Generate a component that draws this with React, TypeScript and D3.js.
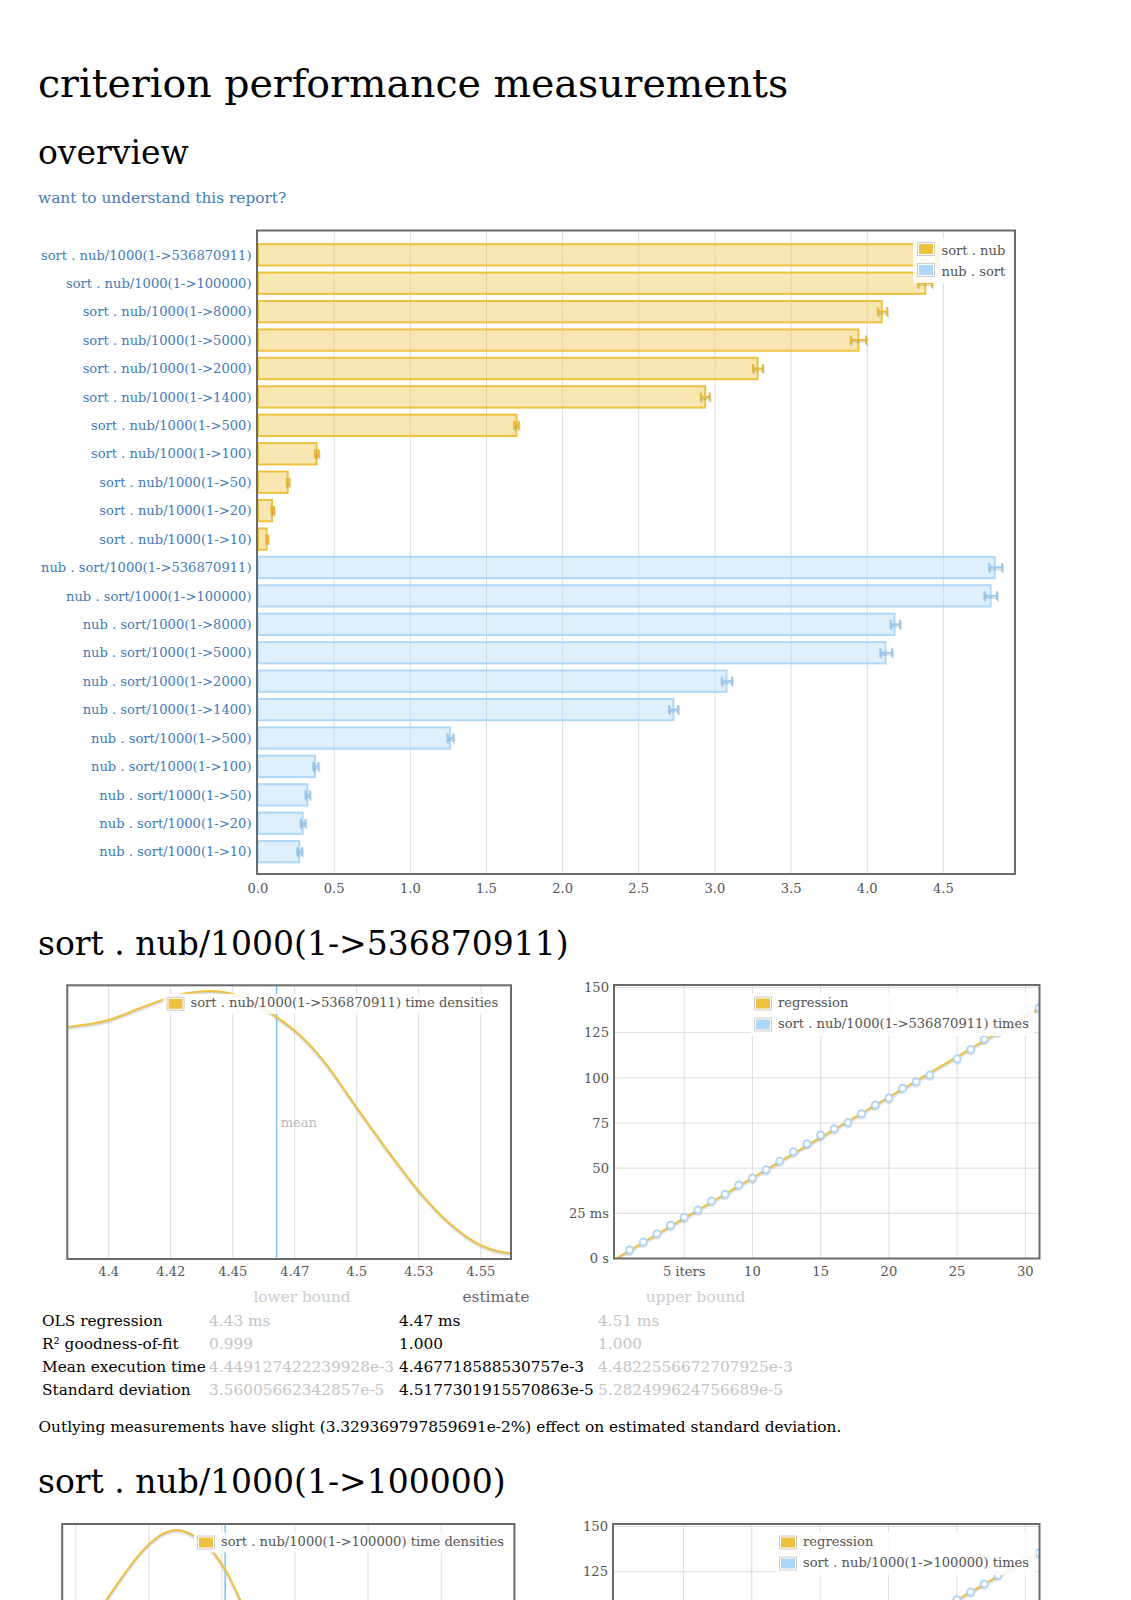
import React, { useEffect } from "react";
import * as d3 from "d3";

// ---------------- data ----------------
const sizes = ["536870911", "100000", "8000", "5000", "2000", "1400", "500", "100", "50", "20", "10"];
const sortNubMean = [4.468, 4.381, 4.095, 3.942, 3.28, 2.936, 1.697, 0.385, 0.195, 0.092, 0.057];
const sortNubLower = [4.452, 4.333, 4.07, 3.891, 3.25, 2.907, 1.682, 0.374, 0.188, 0.087, 0.053];
const sortNubUpper = [4.517, 4.425, 4.13, 3.993, 3.314, 2.965, 1.711, 0.398, 0.206, 0.105, 0.066];
const nubSortMean = [4.837, 4.81, 4.179, 4.12, 3.076, 2.727, 1.261, 0.374, 0.324, 0.293, 0.271];
const nubSortLower = [4.8, 4.77, 4.153, 4.086, 3.045, 2.699, 1.243, 0.363, 0.311, 0.28, 0.258];
const nubSortUpper = [4.885, 4.852, 4.215, 4.163, 3.112, 2.758, 1.282, 0.396, 0.341, 0.311, 0.289];
const seriesNames = ["sort . nub", "nub . sort"];
const overviewTicks = [0, 0.5, 1, 1.5, 2, 2.5, 3, 3.5, 4, 4.5];

const density1Ms = [4.3837, 4.4, 4.4125, 4.4246, 4.4327, 4.4407, 4.4488, 4.4595, 4.4676, 4.4756, 4.4864, 4.4998, 4.5133, 4.5247, 4.5375, 4.55, 4.5605, 4.5618];
const density1Val = [0.848, 0.873, 0.916, 0.956, 0.973, 0.979, 0.971, 0.934, 0.885, 0.83, 0.727, 0.556, 0.386, 0.252, 0.13, 0.051, 0.023, 0.022];
const density1Ticks = [4.4, 4.425, 4.45, 4.475, 4.5, 4.525, 4.55];
const density1TickLabels = ["4.4", "4.42", "4.45", "4.47", "4.5", "4.53", "4.55"];
const density1Mean = 4.4677;

const regIters1 = [1, 2, 3, 4, 5, 6, 7, 8, 9, 10, 11, 12, 13, 14, 15, 16, 17, 18, 19, 20, 21, 22, 23, 25, 26, 27, 28, 30, 31];
const regTimes1 = [4.7, 9.1, 13.7, 18.4, 22.8, 26.8, 31.8, 35.5, 40.7, 44.5, 49.1, 53.9, 59.1, 63.5, 68.3, 71.8, 75.3, 80.1, 84.9, 88.8, 94.3, 97.8, 101.5, 110.5, 115.7, 121.4, 125.4, 137.1, 138.7];
const regSlope1 = 4.4677;

const regXTicks = [5, 10, 15, 20, 25, 30];
const regXTickLabels = ["5 iters", "10", "15", "20", "25", "30"];
const regYTicks = [0, 25, 50, 75, 100, 125, 150];
const regYTickLabels = ["0 s", "25 ms", "50", "75", "100", "125", "150"];

const density2Ms = [4.3304, 4.3355, 4.3407, 4.3458, 4.3509, 4.3554, 4.3595, 4.3636, 4.368, 4.3725, 4.3766, 4.38, 4.3834];
const density2Val = [0.631, 0.722, 0.803, 0.876, 0.934, 0.967, 0.978, 0.967, 0.938, 0.891, 0.825, 0.752, 0.668];
const density2Ticks = [4.325, 4.35, 4.375, 4.4, 4.425, 4.45];
const density2Mean = 4.3761;

const regIters2 = [25, 26, 27, 28, 30, 31];
const regTimes2 = [109.5, 113.8, 118.2, 122.9, 131.4, 135.3];
const regSlope2 = 4.376;

const tableHeaders = ["lower bound", "estimate", "upper bound"];
const tableRowLabels = ["OLS regression", "R² goodness-of-fit", "Mean execution time", "Standard deviation"];
const tableLower = ["4.43 ms", "0.999", "4.449127422239928e-3", "3.56005662342857e-5"];
const tableEstimate = ["4.47 ms", "1.000", "4.467718588530757e-3", "4.5177301915570863e-5"];
const tableUpper = ["4.51 ms", "1.000", "4.4822556672707925e-3", "5.282499624756689e-5"];
const outlierNote = "Outlying measurements have slight (3.329369797859691e-2%) effect on estimated standard deviation.";

// ---------------- style ----------------
const PAGE_H = 1600;
const FONT = "'DejaVu Serif', serif";
const LINK = "#437bb8";
const AXIS = "#545454";
const GRID = "#dddddd";
const BORDER = "#6a6a6a";
const YELLOW = "#edc240";
const BLUE = "#afd8f8";
const YELLOW_FILL = "rgba(237,194,64,0.4)";
const BLUE_FILL = "rgba(175,216,248,0.4)";
const FS = 13.1;
const BODY = 15.35;

function Swatch({ x, y, color }: { x: number; y: number; color: string }) {
  return (
    <g>
      <rect x={x + 0.5} y={y + 0.5} width={17} height={13} fill="#fff" stroke="#ccc" strokeWidth={1} />
      <rect x={x + 2} y={y + 2} width={14} height={10} fill={color} />
    </g>
  );
}

function Overview() {
  const rows = [
    ...sizes.map((s) => `sort . nub/1000(1->${s})`),
    ...sizes.map((s) => `nub . sort/1000(1->${s})`),
  ];
  const means = [...sortNubMean, ...nubSortMean];
  const lows = [...sortNubLower, ...nubSortLower];
  const highs = [...sortNubUpper, ...nubSortUpper];
  const left = 258, right = 1015, top = 231, bottom = 874;
  const x = d3.scaleLinear().domain([0, 4.97]).range([left, right]);
  const y = d3.scaleBand<string>().domain(rows).range([240.6, 865.9]).paddingInner(0.25).paddingOuter(0.125);
  const bw = y.bandwidth();
  return (
    <g fontFamily={FONT}>
      {overviewTicks.map((t) => (
        <g key={t}>
          {t > 0 && <line x1={x(t)} x2={x(t)} y1={top} y2={bottom} stroke={GRID} strokeWidth={1} />}
          <text x={x(t)} y={892.5} textAnchor="middle" fontSize={FS} fill={AXIS}>{t.toFixed(1)}</text>
        </g>
      ))}
      {rows.map((r, i) => {
        const yellow = i < sizes.length;
        const c = yellow ? YELLOW : BLUE;
        const yy = y(r)!;
        const cy = yy + bw / 2;
        return (
          <g key={r}>
            <rect x={x(0)} y={yy} width={x(means[i]) - x(0)} height={bw} fill={yellow ? YELLOW_FILL : BLUE_FILL} stroke={c} strokeWidth={2} />
            {yellow && <line x1={x(0) + 1} x2={x(means[i]) - 1} y1={cy} y2={cy} stroke="#fae9a8" strokeWidth={1} />}
            <g stroke="rgba(0,0,0,0.12)" strokeWidth={2}>
              <line x1={x(lows[i])} x2={x(highs[i])} y1={cy + 2} y2={cy + 2} />
              <line x1={x(lows[i]) + 1} x2={x(lows[i]) + 1} y1={cy - 3} y2={cy + 6} />
              <line x1={x(highs[i]) + 1} x2={x(highs[i]) + 1} y1={cy - 3} y2={cy + 6} />
            </g>
            <g stroke={yellow ? "#e6b93a" : "#98c8ee"} strokeWidth={2}>
              <line x1={x(lows[i])} x2={x(highs[i])} y1={cy} y2={cy} />
              <line x1={x(lows[i])} x2={x(lows[i])} y1={cy - 4.5} y2={cy + 4.5} />
              <line x1={x(highs[i])} x2={x(highs[i])} y1={cy - 4.5} y2={cy + 4.5} />
            </g>
            <text x={251.5} y={cy + 4.7} textAnchor="end" fontSize={FS} fill={LINK}>{r}</text>
          </g>
        );
      })}
      <rect x={left - 1} y={top - 0.5} width={right - left + 1} height={bottom - top + 0.5} fill="none" stroke={BORDER} strokeWidth={2} />
      <rect x={913} y={238} width={97} height={45} fill="#fff" opacity={0.85} />
      <Swatch x={917} y={242} color={YELLOW} />
      <Swatch x={917} y={263} color={BLUE} />
      <text x={941.5} y={254.5} fontSize={FS} fill={AXIS}>{seriesNames[0]}</text>
      <text x={941.5} y={275.5} fontSize={FS} fill={AXIS}>{seriesNames[1]}</text>
    </g>
  );
}

type DensityProps = {
  id: string;
  left: number; right: number; top: number; height: number;
  domain: [number, number];
  ms: number[]; vals: number[];
  ticks: number[]; tickLabels?: string[];
  mean: number;
  legendLabel: string;
  legendX: number;
};

function Density(p: DensityProps) {
  const bottom = p.top + p.height;
  const x = d3.scaleLinear().domain(p.domain).range([p.left, p.right]);
  const y = d3.scaleLinear().domain([0, 1]).range([bottom, p.top]);
  const pts: [number, number][] = p.ms.map((m, i) => [m, p.vals[i]]);
  const line = d3.line<[number, number]>().x((d) => x(d[0])).y((d) => y(d[1])).curve(d3.curveMonotoneX);
  const path = line(pts) || "";
  const mx = x(p.mean);
  const meanY = p.top + 142;
  return (
    <g fontFamily={FONT}>
      <defs>
        <clipPath id={p.id}>
          <rect x={p.left} y={p.top} width={p.right - p.left} height={p.height} />
        </clipPath>
      </defs>
      {p.ticks.map((t, i) => (
        <g key={t}>
          <line x1={x(t)} x2={x(t)} y1={p.top} y2={bottom} stroke={GRID} strokeWidth={1} />
          {p.tickLabels && bottom + 17 < PAGE_H && (
            <text x={x(t)} y={bottom + 17} textAnchor="middle" fontSize={FS} fill={AXIS}>{p.tickLabels[i]}</text>
          )}
        </g>
      ))}
      <g clipPath={`url(#${p.id})`}>
        <path d={path} transform="translate(0,2)" fill="none" stroke="rgba(0,0,0,0.08)" strokeWidth={3} />
        <path d={path} transform="translate(0,1)" fill="none" stroke="rgba(0,0,0,0.1)" strokeWidth={2} />
        <line x1={mx} x2={mx} y1={p.top} y2={bottom} stroke="#7fc3ef" strokeWidth={1.5} />
        <path d={path} fill="none" stroke={YELLOW} strokeWidth={2} />
      </g>
      {meanY < PAGE_H - 4 && <text x={mx + 4} y={meanY} fontSize={FS} fill="#bbbbbb">mean</text>}
      <rect x={p.left - 1} y={p.top} width={p.right - p.left + 2} height={p.height} fill="none" stroke={BORDER} strokeWidth={2} />
      <g>
        <rect x={p.legendX - 3} y={p.top + 8.5} width={p.right - p.legendX - 5} height={20} fill="#fff" opacity={0.85} />
        <Swatch x={p.legendX} y={p.top + 11.5} color={YELLOW} />
        <text x={p.legendX + 24} y={p.top + 22} fontSize={FS} fill={AXIS}>{p.legendLabel}</text>
      </g>
    </g>
  );
}

type RegProps = {
  id: string;
  left: number; right: number; top: number; height: number;
  iters: number[]; times: number[]; slope: number;
  seriesLabel: string;
  legendX: number;
  legendRight: number;
};

function Regression(p: RegProps) {
  const bottom = p.top + p.height;
  const x = d3.scaleLinear().domain([0, 31]).range([p.left + 1.5, p.right]);
  const y = d3.scaleLinear().domain([0, 150]).range([bottom, p.top + 2.5]);
  const regLine = d3.line<number>().x((d) => x(d)).y((d) => y(d * p.slope));
  const lp = regLine([0, 31]) || "";
  return (
    <g fontFamily={FONT}>
      <defs>
        <clipPath id={p.id}>
          <rect x={p.left} y={p.top} width={p.right - p.left} height={p.height} />
        </clipPath>
      </defs>
      {regXTicks.map((t, i) => (
        <g key={"x" + t}>
          <line x1={x(t)} x2={x(t)} y1={p.top} y2={bottom} stroke={GRID} strokeWidth={1} />
          {bottom + 17.5 < PAGE_H && (
            <text x={x(t)} y={bottom + 17.5} textAnchor="middle" fontSize={FS} fill={AXIS}>{regXTickLabels[i]}</text>
          )}
        </g>
      ))}
      {regYTicks.map((t, i) => (
        <g key={"y" + t}>
          {t > 0 && <line x1={p.left} x2={p.right} y1={y(t)} y2={y(t)} stroke={GRID} strokeWidth={1} />}
          {y(t) + 6 < PAGE_H && (
            <text x={p.left - 5.5} y={y(t) + 4.7} textAnchor="end" fontSize={FS} fill={AXIS}>{regYTickLabels[i]}</text>
          )}
        </g>
      ))}
      <g clipPath={`url(#${p.id})`}>
        <path d={lp} transform="translate(0,2)" fill="none" stroke="rgba(0,0,0,0.08)" strokeWidth={3} />
        <path d={lp} transform="translate(0,1)" fill="none" stroke="rgba(0,0,0,0.1)" strokeWidth={2} />
        <path d={lp} fill="none" stroke={YELLOW} strokeWidth={2} />
        {p.iters.map((it, i) => (
          <circle key={"s" + it} cx={x(it)} cy={y(p.times[i]) + 1.5} r={3.5} fill="none" stroke="rgba(0,0,0,0.1)" strokeWidth={2} />
        ))}
        {p.iters.map((it, i) => (
          <circle key={"c" + it} cx={x(it)} cy={y(p.times[i])} r={3.5} fill="#fff" stroke={BLUE} strokeWidth={2} />
        ))}
      </g>
      <rect x={p.left - 0.5} y={p.top} width={p.right - p.left + 1} height={p.height} fill="none" stroke={BORDER} strokeWidth={2} />
      <g>
        <rect x={p.legendX - 3} y={p.top + 8} width={p.legendRight - p.legendX + 3} height={43} fill="#fff" opacity={0.85} />
        <Swatch x={p.legendX} y={p.top + 11.5} color={YELLOW} />
        <Swatch x={p.legendX} y={p.top + 32.5} color={BLUE} />
        <text x={p.legendX + 24} y={p.top + 22} fontSize={FS} fill={AXIS}>regression</text>
        <text x={p.legendX + 24} y={p.top + 43} fontSize={FS} fill={AXIS}>{p.seriesLabel}</text>
      </g>
    </g>
  );
}

function Table() {
  const colX = [42, 209, 399, 598];
  const headerCenters = [302, 496, 695.5];
  const headerColors = ["#cccccc", "#666666", "#cccccc"];
  const rowBase = [1326, 1348.5, 1372, 1395.3];
  return (
    <g fontFamily={FONT} fontSize={BODY}>
      {tableHeaders.map((h, i) => (
        <text key={h} x={headerCenters[i]} y={1302} textAnchor="middle" fill={headerColors[i]}>{h}</text>
      ))}
      {tableRowLabels.map((r, i) => (
        <g key={r}>
          <text x={colX[0]} y={rowBase[i]} fill="#000">{r}</text>
          <text x={colX[1]} y={rowBase[i]} fill="#c4c4c4">{tableLower[i]}</text>
          <text x={colX[2]} y={rowBase[i]} fill="#000">{tableEstimate[i]}</text>
          <text x={colX[3]} y={rowBase[i]} fill="#c4c4c4">{tableUpper[i]}</text>
        </g>
      ))}
      <text x={38.5} y={1432} fill="#000">{outlierNote}</text>
    </g>
  );
}

export default function App() {
  useEffect(() => {
    document.body.style.margin = "0";
    document.body.style.overflow = "hidden";
  }, []);
  return (
    <svg width={1131} height={1600} viewBox="0 0 1131 1600" style={{ display: "block", background: "#fff" }}>
      <rect x={0} y={0} width={1131} height={1600} fill="#fff" />
      <g fontFamily={FONT}>
        <text x={38} y={97} fontSize={39.5} fill="#000">criterion performance measurements</text>
        <text x={38} y={164} fontSize={33} fill="#000">overview</text>
        <text x={38} y={203} fontSize={BODY} fill={LINK}>want to understand this report?</text>
        <text x={38} y={955} fontSize={33} fill="#000">sort . nub/1000(1-&gt;536870911)</text>
        <text x={38} y={1493} fontSize={33} fill="#000">sort . nub/1000(1-&gt;100000)</text>
      </g>
      <Overview />
      <Density id="d1" left={68.3} right={510} top={985.3} height={273.7}
        domain={[4.3837, 4.5618]} ms={density1Ms} vals={density1Val}
        ticks={density1Ticks} tickLabels={density1TickLabels} mean={density1Mean}
        legendLabel="sort . nub/1000(1->536870911) time densities" legendX={166.5} />
      <Regression id="r1" left={614.5} right={1039} top={985} height={273.5}
        iters={regIters1} times={regTimes1} slope={regSlope1}
        seriesLabel="sort . nub/1000(1->536870911) times" legendX={754} legendRight={1034} />
      <Table />
      <Density id="d2" left={63.2} right={513.4} top={1524} height={273.7}
        domain={[4.3207, 4.4747]} ms={density2Ms} vals={density2Val}
        ticks={density2Ticks} mean={density2Mean}
        legendLabel="sort . nub/1000(1->100000) time densities" legendX={197} />
      <Regression id="r2" left={613.5} right={1039} top={1524} height={273.5}
        iters={regIters2} times={regTimes2} slope={regSlope2}
        seriesLabel="sort . nub/1000(1->100000) times" legendX={779} legendRight={1036} />
    </svg>
  );
}
